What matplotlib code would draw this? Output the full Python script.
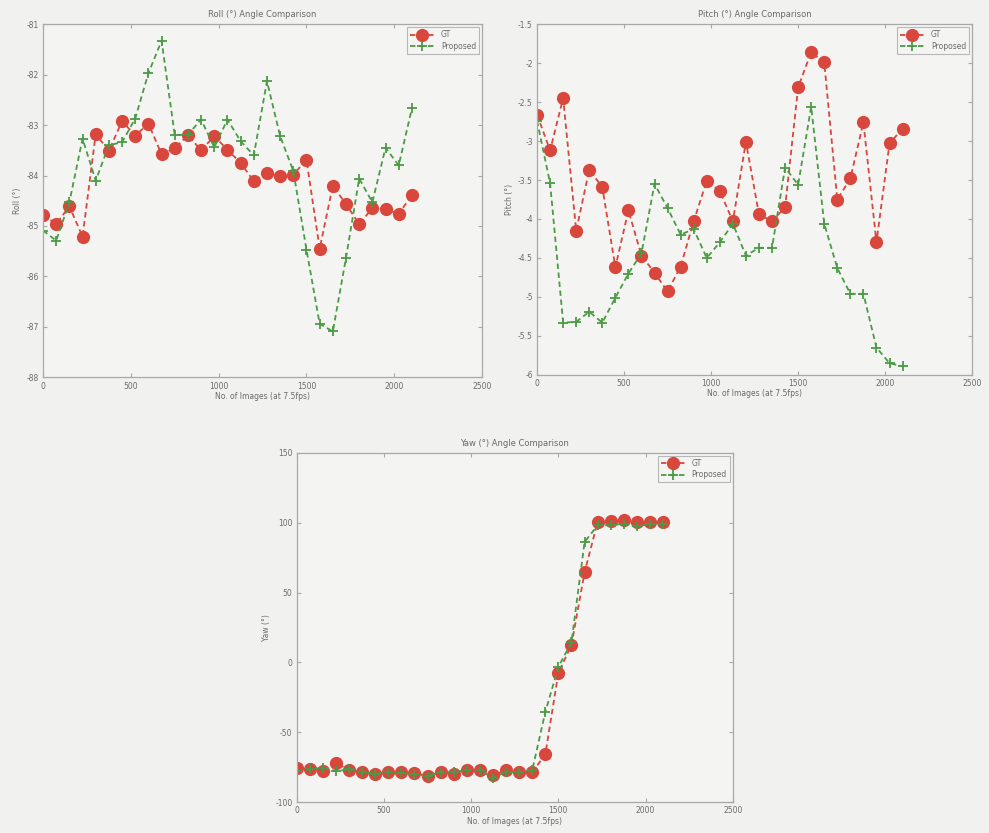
import matplotlib
matplotlib.use("Agg")
import matplotlib.pyplot as plt
import numpy as np

#### Data ####
frames = list(range(0, 2101, 75))

roll_gt = [-84.78, -84.96, -84.61, -85.21, -83.18, -83.51, -82.92, -83.21, -82.97, -83.58,
           -83.46, -83.20, -83.50, -83.22, -83.49, -83.75, -84.11, -83.95, -84.01, -83.98,
           -83.69, -85.45, -84.20, -84.57, -84.96, -84.65, -84.67, -84.76, -84.39]
roll_prop = [-85.09, -85.29, -84.53, -83.27, -84.10, -83.40, -83.34, -82.87, -81.97, -81.33,
             -83.20, -83.19, -82.89, -83.44, -82.89, -83.32, -83.60, -82.13, -83.22, -83.91,
             -85.47, -86.94, -87.09, -85.63, -84.06, -84.53, -83.45, -83.80, -82.67]

pitch_gt = [-2.66, -3.12, -2.45, -4.15, -3.37, -3.59, -4.62, -3.89, -4.47, -4.69,
            -4.93, -4.61, -4.03, -3.51, -3.64, -4.03, -3.01, -3.94, -4.03, -3.85,
            -2.31, -1.86, -1.99, -3.75, -3.48, -2.76, -4.30, -3.03, -2.84]
pitch_prop = [-2.74, -3.54, -5.33, -5.32, -5.19, -5.33, -5.01, -4.70, -4.44, -3.55,
              -3.86, -4.20, -4.13, -4.50, -4.30, -4.06, -4.47, -4.37, -4.37, -3.34,
              -3.56, -2.56, -4.06, -4.63, -4.96, -4.96, -5.65, -5.85, -5.89]

yaw_gt = [-75.6, -76.6, -77.8, -71.8, -77.3, -78.5, -79.7, -78.3, -78.7, -79.2,
          -81.4, -78.5, -79.7, -77.3, -77.3, -80.9, -77.3, -78.3, -78.7, -65.9,
          -7.4, 12.5, 64.5, 100.6, 101.1, 101.8, 100.3, 100.8, 100.8]
yaw_prop = [-78.0, -76.6, -75.4, -78.0, -76.6, -78.5, -79.7, -78.3, -79.2, -80.2,
            -81.4, -78.5, -78.5, -77.3, -77.3, -82.6, -78.5, -78.5, -77.3, -35.5,
            -3.3, 14.6, 86.2, 98.2, 98.2, 99.4, 97.5, 98.9, 99.4]

xticks = [0, 500, 1000, 1500, 2000, 2500]

#### Style ####
gt_col = '#d8463c'
prop_col = '#4b9a45'
edge_col = '#a8a8a8'
text_col = '#6a6a6a'

plt.rcParams['font.family'] = 'DejaVu Sans'
plt.rcParams['font.size'] = 5.5

fig = plt.figure(figsize=(9.89, 8.33), dpi=100, facecolor='#f1f1f0')


def angle_plot(rect, gt, prop, name, ylim, yticks, ytl):
    ax = fig.add_axes(rect, facecolor='#f4f4f3')
    ax.plot(frames, gt, '--', color=gt_col, lw=1.3, marker='o', ms=8.5,
            mfc=gt_col, mec=gt_col, label='GT', dashes=(3, 2))
    ax.plot(frames, prop, '--', color=prop_col, lw=1.3, marker='+', ms=7,
            mew=1.3, label='Proposed', dashes=(3, 2))
    ax.set_xlim(0, 2500)
    ax.set_ylim(*ylim)
    ax.set_xticks(xticks)
    ax.set_yticks(yticks)
    ax.set_yticklabels(ytl)
    ax.tick_params(direction='in', top=True, right=True, length=3,
                   color=edge_col, labelcolor=text_col, labelsize=5.5, pad=3)
    for s in ax.spines.values():
        s.set_color(edge_col)
        s.set_linewidth(0.9)
    ax.set_title(name + u' (\u00b0) Angle Comparison', color=text_col, fontsize=6, pad=5)
    ax.set_ylabel(name + u' (\u00b0)', color=text_col, fontsize=5.5, labelpad=3)
    ax.set_xlabel('No. of Images (at 7.5fps)', color=text_col, fontsize=5.5, labelpad=1)
    leg = ax.legend(loc='upper right', fontsize=5.5, frameon=True, fancybox=False,
                    handlelength=3.2, borderaxespad=0.4, labelspacing=0.3)
    leg.get_frame().set_edgecolor(edge_col)
    leg.get_frame().set_facecolor('#f4f4f3')
    leg.get_frame().set_linewidth(0.8)
    for t in leg.get_texts():
        t.set_color(text_col)
    return ax


angle_plot([0.0435, 0.547, 0.444, 0.424], roll_gt, roll_prop, 'Roll', (-88, -81),
           np.arange(-88, -80, 1), [str(v) for v in range(-88, -80)])
angle_plot([0.543, 0.550, 0.440, 0.421], pitch_gt, pitch_prop, 'Pitch', (-6, -1.5),
           np.arange(-6, -1.4, 0.5),
           ['-6', '-5.5', '-5', '-4.5', '-4', '-3.5', '-3', '-2.5', '-2', '-1.5'])
angle_plot([0.300, 0.0372, 0.441, 0.419], yaw_gt, yaw_prop, 'Yaw', (-100, 150),
           np.arange(-100, 151, 50), ['-100', '-50', '0', '50', '100', '150'])

plt.savefig('out.png', dpi=100, facecolor=fig.get_facecolor())
